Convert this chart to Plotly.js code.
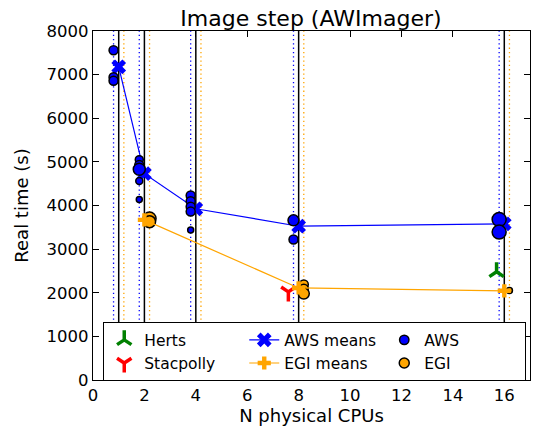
<!DOCTYPE html>
<html><head><meta charset="utf-8">
<script src="https://cdn.plot.ly/plotly-3.0.1.min.js"></script>
<style>html,body{margin:0;padding:0;background:#fff}#plot{width:538px;height:435px}</style>
</head><body><div id="plot"></div>
<script>
// Data
const cpus = [1, 2, 4, 8, 16];
const awsMeans = [7180, 4730, 3925, 3525, 3580];
const egiCpus = [2, 8, 16];
const egiMeans = [3670, 2110, 2045];
const awsX = [0.8, 0.8, 0.8, 1.8, 1.8, 1.8, 1.8, 1.8, 3.8, 3.8, 3.8, 3.8, 3.8, 7.8, 7.8, 15.8, 15.8];
const awsY = [7560, 6940, 6860, 5050, 4930, 4830, 4560, 4140, 4230, 4100, 3970, 3860, 3440, 3660, 3220, 3680, 3390];
const awsSize = [9, 9, 9, 8, 9, 12, 7, 6, 9, 9, 9, 9, 6, 11, 9, 14, 14];
const egiX = [2.2, 2.2, 8.2, 8.2, 8.2, 16.2];
const egiY = [3700, 3630, 2190, 2090, 1980, 2050];
const egiSize = [13, 12, 9, 9, 11, 6];
const hertsX = [15.7];
const hertsY = [2480];
const stacX = [7.6];
const stacY = [2020];
const blueLines = [0.8, 1.8, 3.8, 7.8, 15.8];
const orangeLines = [1.2, 2.2, 4.2, 8.2, 16.2];
const blackLines = cpus;

function vlines(xs, color, dash, width) {
  const x = [], y = [];
  xs.forEach(v => { x.push(v, v, null); y.push(0, 8000, null); });
  return {x, y, mode: 'lines', line: {color, dash, width}, showlegend: false, hoverinfo: 'skip'};
}

const traces = [
  vlines(blackLines, 'black', 'solid', 1.5),
  vlines(blueLines, 'blue', '1.3px,3px', 1.3),
  vlines(orangeLines, 'orange', '1.3px,3px', 1.3),
  {x: hertsX, y: hertsY, mode: 'markers', name: 'Herts', legendrank: 1,
   marker: {symbol: 'y-up', size: 12, color: 'green', line: {color: 'green', width: 3.5}}},
  {x: stacX, y: stacY, mode: 'markers', name: 'Stacpolly', legendrank: 4,
   marker: {symbol: 'y-down', size: 12, color: 'red', line: {color: 'red', width: 3.5}}},
  {x: cpus, y: awsMeans, mode: 'lines+markers', name: 'AWS means', legendrank: 2,
   line: {color: 'blue', width: 1.2},
   marker: {symbol: 'x', size: 13, color: 'blue', line: {width: 0}}},
  {x: awsX, y: awsY, mode: 'markers', name: 'AWS', legendrank: 3,
   marker: {symbol: 'circle', size: awsSize, color: 'blue', opacity: 1, line: {color: 'black', width: 1.5}}},
  {x: egiX, y: egiY, mode: 'markers', name: 'EGI', legendrank: 6,
   marker: {symbol: 'circle', size: egiSize, color: 'orange', opacity: 1, line: {color: 'black', width: 1.5}}},
  {x: egiCpus, y: egiMeans, mode: 'lines+markers', name: 'EGI means', legendrank: 5,
   line: {color: 'orange', width: 1.2},
   marker: {symbol: 'cross', size: 11, color: 'orange', line: {width: 0}}}
];

const axisCommon = {
  showline: true, linecolor: 'black', linewidth: 1.2, mirror: 'allticks',
  ticks: 'inside', ticklen: 6, tickcolor: 'black', tickwidth: 1,
  showgrid: false, zeroline: false,
  tickfont: {family: 'DejaVu Sans', size: 16.5, color: 'black'}
};

const layout = {
  width: 538, height: 435,
  margin: {l: 93, r: 8, t: 31, b: 55},
  paper_bgcolor: 'white', plot_bgcolor: 'white',
  font: {family: 'DejaVu Sans', color: 'black'},
  title: {text: 'Image step (AWImager)', font: {size: 22, color: 'black'}, x: 0.578, xanchor: 'center', y: 0.975, yanchor: 'top'},
  xaxis: Object.assign({}, axisCommon, {range: [0, 17], dtick: 2, tick0: 0,
    title: {text: 'N physical CPUs', font: {size: 18}, standoff: 4}}),
  yaxis: Object.assign({}, axisCommon, {range: [0, 8000], dtick: 1000, tick0: 0,
    title: {text: 'Real time (s)', font: {size: 18}, standoff: 13}}),
  legend: {orientation: 'h', x: 0.023, y: 0.166, xanchor: 'left', yanchor: 'top',
    bgcolor: 'white', bordercolor: 'black', borderwidth: 1.2,
    font: {size: 15.5, family: 'DejaVu Sans'}, entrywidth: 95, itemsizing: 'trace',
    traceorder: 'normal', tracegroupgap: 0},
  showlegend: true
};

Plotly.newPlot('plot', traces, layout, {displayModeBar: false, staticPlot: true});
</script></body></html>
